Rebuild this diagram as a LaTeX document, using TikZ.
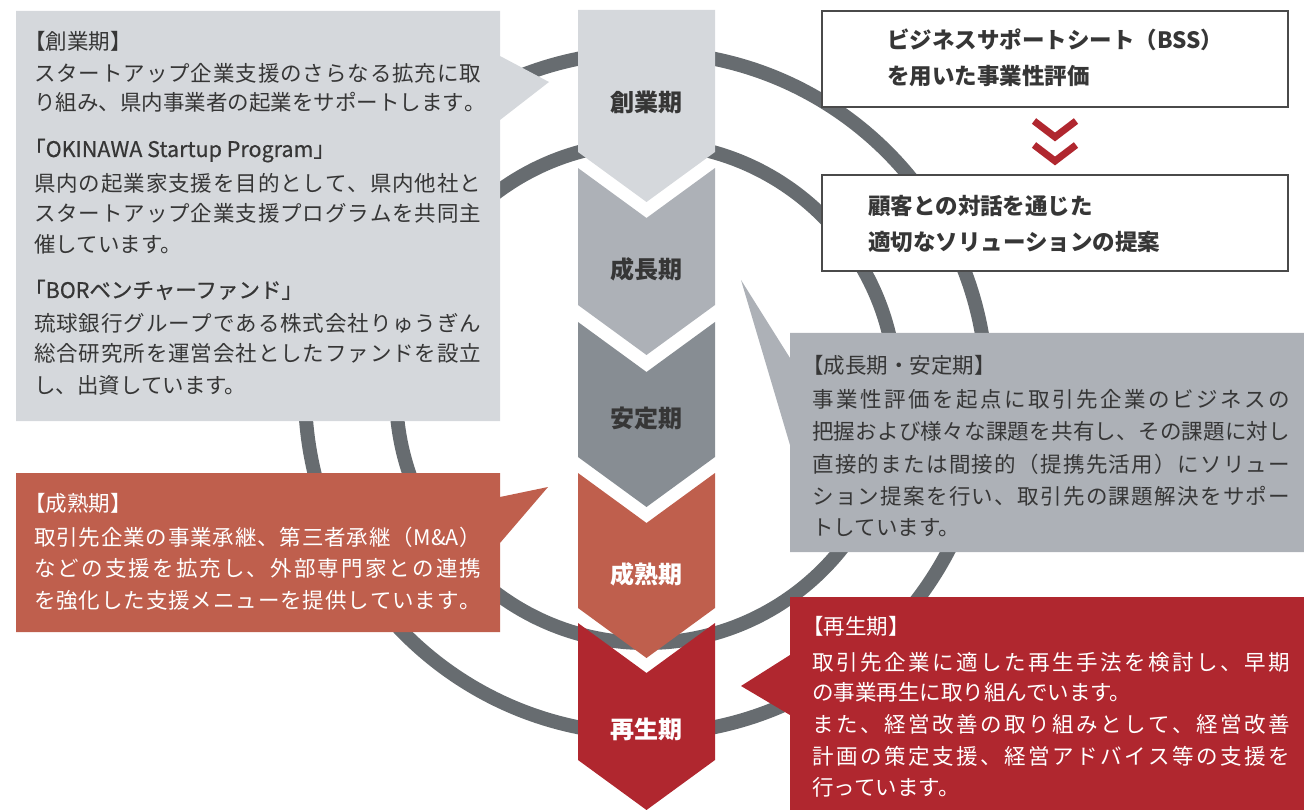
\documentclass[tikz,border=0pt]{standalone}
\usepackage{fontspec}
\setmainfont{Noto Sans CJK JP}
\newfontfamily\jpmed[FakeBold=0.6]{Noto Sans CJK JP}
\definecolor{cA}{HTML}{D5D8DC}
\definecolor{cB}{HTML}{ADB1B7}
\definecolor{cC}{HTML}{878D93}
\definecolor{cD}{HTML}{BF5F4D}
\definecolor{cE}{HTML}{B0272F}
\definecolor{ringc}{HTML}{676C70}
\definecolor{txtc}{HTML}{363636}
\definecolor{bordc}{HTML}{4A4A4A}
\def\jsp#1{\ifx#1\relax\unskip\else#1\hfil\expandafter\jsp\fi}
\newcommand\jfull[2]{\makebox[#1][s]{\jsp#2\relax}}
\tikzset{
  ring/.style={draw=ringc, line width=14pt},
  bodytxt/.style={anchor=base west, inner sep=0pt, font=\fontsize{21.5}{24}\selectfont, text=txtc},
  whitetxt/.style={bodytxt, text=white},
  headtxt/.style={bodytxt, font=\fontsize{21.5}{24}\selectfont\jpmed},
  boxtxt/.style={anchor=base west, inner sep=0pt, font=\fontsize{22.5}{24}\selectfont\bfseries, text=txtc},
  stage/.style={anchor=base, inner sep=0pt, font=\fontsize{24}{26}\selectfont\bfseries, text=txtc},
  stagew/.style={stage, text=white},
  framebox/.style={fill=white, draw=bordc, line width=2pt},
  vmark/.style={draw=cE, line width=7pt, line join=miter}
}
\begin{document}
\begin{tikzpicture}[x=1pt,y=-1pt]
\useasboundingbox (0,0) rectangle (1304,810);
% rings
\draw[ring] (646,393) circle[radius=341];
\draw[ring] (646,393) circle[radius=250];
% left boxes
\fill[cA] (16,11) -- (500,11) -- (500,56) -- (549,82) -- (500,120) -- (500,421) -- (16,421) -- cycle;
\fill[cD] (16,473) -- (500,473) -- (500,497) -- (548,487) -- (500,543) -- (500,632) -- (16,632) -- cycle;
% right boxes
\fill[cB] (790,333) -- (1304,333) -- (1304,552) -- (790,552) -- (790,445) -- (741,280) -- (790,358) -- cycle;
\fill[cE] (790,597) -- (1304,597) -- (1304,810) -- (790,810) -- (790,715) -- (741,686) -- (790,655) -- cycle;
\draw[framebox] (822,11) rectangle (1288,107);
\draw[framebox] (822,175) rectangle (1288,271);
\draw[vmark] (1034,121) -- (1055,137) -- (1076,121);
\draw[vmark] (1034,145) -- (1055,161) -- (1076,145);
% column chevrons
\fill[cA] (578,10) -- (715,10) -- (715,152) -- (646.5,202) -- (578,152) -- cycle;
\fill[cB] (578,168) -- (646.5,218) -- (715,168) -- (715,305) -- (646.5,355) -- (578,305) -- cycle;
\fill[cC] (578,322) -- (646.5,372) -- (715,322) -- (715,457) -- (646.5,507) -- (578,457) -- cycle;
\fill[cD] (578,473) -- (646.5,523) -- (715,473) -- (715,608) -- (646.5,658) -- (578,608) -- cycle;
\fill[cE] (578,623) -- (646.5,673) -- (715,623) -- (715,760) -- (646.5,810) -- (578,760) -- cycle;
\node[stage] (s1) at (646.5,112) {創業期};
\node[stage] (s2) at (646.5,279) {成長期};
\node[stage] (s3) at (646.5,427) {安定期};
\node[stagew] (s4) at (646.5,583) {成熟期};
\node[stagew] (s5) at (646.5,738) {再生期};
% top right box texts
\node[boxtxt] (r1a) at (887,49) {ビジネスサポートシート（BSS）};
\node[boxtxt] (r1b) at (887,85) {を用いた事業性評価};
\node[boxtxt] (r2a) at (868,215) {顧客との対話を通じた};
\node[boxtxt] (r2b) at (868,251) {適切なソリューションの提案};
% left box 1 text
\node[bodytxt, xshift=-10pt] (h1a) at (34,50) {【創業期】};
\node[bodytxt] (b1a) at (34,82) {\jfull{447pt}{スタートアップ企業支援のさらなる拡充に取}};
\node[bodytxt] (b1b) at (34,111) {\jfull{447pt}{り組み、県内事業者の起業をサポートします。}};
\node[headtxt, xshift=-10pt] (h1b) at (34,157) {「OKINAWA Startup Program」};
\node[bodytxt] (b1c) at (34,192) {\jfull{447pt}{県内の起業家支援を目的として、県内他社と}};
\node[bodytxt] (b1d) at (34,222) {\jfull{447pt}{スタートアップ企業支援プログラムを共同主}};
\node[bodytxt] (b1e) at (34,253) {催しています。};
\node[headtxt, xshift=-10pt] (h1c) at (34,298) {「BORベンチャーファンド」};
\node[bodytxt] (b1f) at (34,331) {\jfull{447pt}{琉球銀行グループである株式会社りゅうぎん}};
\node[bodytxt] (b1g) at (34,362) {\jfull{447pt}{総合研究所を運営会社としたファンドを設立}};
\node[bodytxt] (b1h) at (34,393) {し、出資しています。};
% left box 2 text
\node[whitetxt, xshift=-10pt] (h2a) at (34,511) {【成熟期】};
\node[whitetxt] (b2a) at (34,545) {\jfull{447pt}{取引先企業の事業承継、第三者承継（{M\&A}）}};
\node[whitetxt] (b2b) at (34,576) {\jfull{447pt}{などの支援を拡充し、外部専門家との連携}};
\node[whitetxt] (b2c) at (34,608) {\jfull{447pt}{を強化した支援メニューを提供しています。}};
% gray right box text
\node[bodytxt, xshift=-10pt] (h3a) at (812,373) {【成長期・安定期】};
\node[bodytxt] (b3a) at (812,407) {\jfull{478pt}{事業性評価を起点に取引先企業のビジネスの}};
\node[bodytxt] (b3b) at (812,439) {\jfull{478pt}{把握および様々な課題を共有し、その課題に対し}};
\node[bodytxt] (b3c) at (812,472) {\jfull{478pt}{直接的または間接的（提携先活用）にソリュー}};
\node[bodytxt] (b3d) at (812,504) {\jfull{478pt}{ション提案を行い、取引先の課題解決をサポー}};
\node[bodytxt] (b3e) at (812,535) {トしています。};
% red box text
\node[whitetxt, xshift=-10pt] (h4a) at (812,634) {【再生期】};
\node[whitetxt] (b4a) at (812,670) {\jfull{478pt}{取引先企業に適した再生手法を検討し、早期}};
\node[whitetxt] (b4b) at (812,700) {の事業再生に取り組んでいます。};
\node[whitetxt] (b4c) at (812,732) {\jfull{478pt}{また、経営改善の取り組みとして、経営改善}};
\node[whitetxt] (b4d) at (812,764) {\jfull{478pt}{計画の策定支援、経営アドバイス等の支援を}};
\node[whitetxt] (b4e) at (812,795) {行っています。};
\end{tikzpicture}
\end{document}
